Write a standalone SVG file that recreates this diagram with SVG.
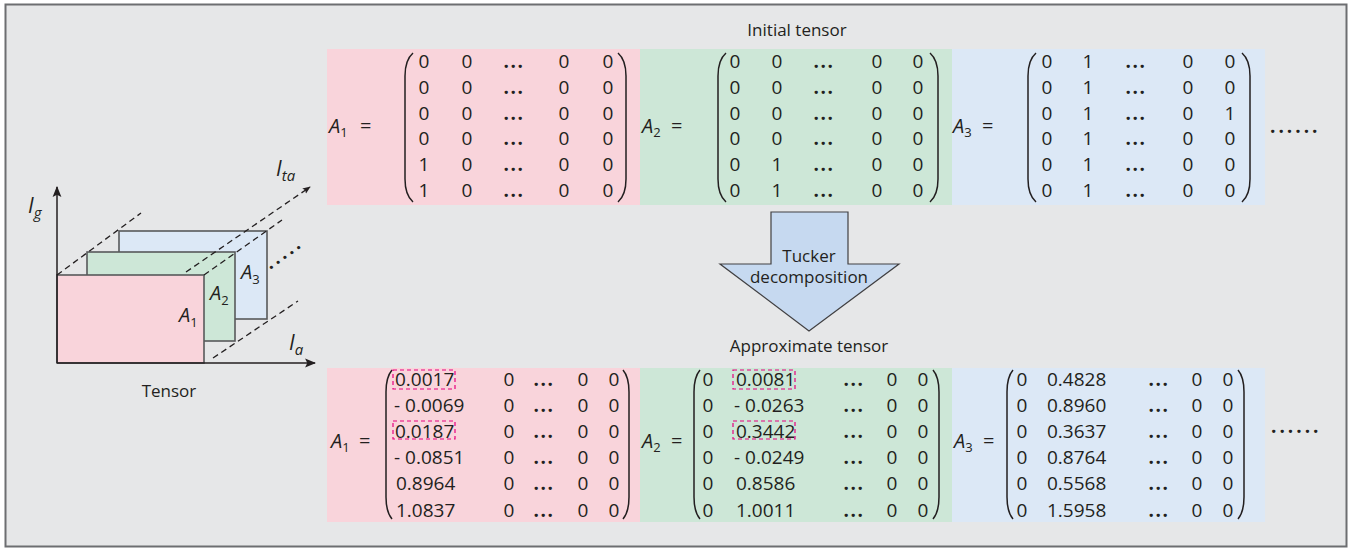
<svg xmlns="http://www.w3.org/2000/svg" width="1357" height="550" viewBox="0 0 1357 550">
<style>
text{font-family:"Open Sans","Noto Sans","Liberation Sans",sans-serif;fill:#231f20}
.t{font-size:17px}
.m{font-size:19px;text-anchor:middle}
.ml{font-size:19px}
.lab{font-size:20px}
.d{font-size:19px;text-anchor:middle;font-weight:bold;letter-spacing:1.5px}
.it{font-style:italic}
.sub{font-size:13px}
.paren{fill:none;stroke:#231f20;stroke-width:1.5}
.hl{fill:none;stroke:#e6007e;stroke-width:1.2;stroke-dasharray:4 3}
.dash{fill:none;stroke:#231f20;stroke-width:1.3;stroke-dasharray:6 4}
.ax{fill:none;stroke:#231f20;stroke-width:1.5}
.slab{stroke:#58595b;stroke-width:1.6}
</style>
<defs>
<marker id="ah" viewBox="0 0 10 10" refX="9" refY="5" markerWidth="8" markerHeight="8" orient="auto" markerUnits="userSpaceOnUse">
<path d="M0,1 L10,5 L0,9 L2,5 Z" fill="#231f20"/>
</marker>
<marker id="ahs" viewBox="0 0 10 10" refX="9" refY="5" markerWidth="11" markerHeight="11" orient="auto" markerUnits="userSpaceOnUse">
<path d="M0,1 L10,5 L0,9 L2,5 Z" fill="#231f20"/>
</marker>
</defs>
<rect x="5.5" y="4.5" width="1341" height="542" fill="#e6e7e8" stroke="#6d6e71" stroke-width="2"/>

<!-- Left tensor illustration -->
<g id="tensor">
<rect x="119" y="231" width="148" height="88" fill="#dce8f6" class="slab"/>
<rect x="87" y="252" width="148" height="89" fill="#cde7d7" class="slab"/>
<rect x="57" y="275" width="147" height="88" fill="#f9d4db" class="slab"/>
<text x="179" y="322" class="lab it">A<tspan class="sub" dy="5" font-style="normal">1</tspan></text>
<text x="210" y="300" class="lab it">A<tspan class="sub" dy="5" font-style="normal">2</tspan></text>
<text x="241" y="279" class="lab it">A<tspan class="sub" dy="5" font-style="normal">3</tspan></text>
<text x="0" y="0" class="ml" font-weight="bold" letter-spacing="3" transform="translate(270,270) rotate(-36)">.....</text>
<text x="169" y="397" class="t" text-anchor="middle">Tensor</text>
<text x="28" y="213" class="it" font-size="21">I<tspan font-size="15" dy="5">g</tspan></text>
<text x="276" y="176" class="it" font-size="21">I<tspan font-size="15" dy="5">ta</tspan></text>
<text x="289" y="350" class="it" font-size="21">I<tspan font-size="15" dy="5">a</tspan></text>
</g>

<g id="connectors">
<line x1="57" y1="363" x2="57" y2="187" class="ax" marker-end="url(#ahs)"/>
<line x1="57" y1="363" x2="315" y2="363" class="ax" marker-end="url(#ahs)"/>
<line x1="57" y1="275" x2="141" y2="213" class="dash"/>
<line x1="186" y1="272" x2="310" y2="187" class="dash" marker-end="url(#ah)"/>
<line x1="204" y1="275" x2="282" y2="220" class="dash"/>
<line x1="213" y1="358" x2="298" y2="301" class="dash"/>
</g>

<!-- Initial tensor -->
<text x="797" y="36" class="t" text-anchor="middle">Initial tensor</text>

<g id="top-A1">
<rect x="327" y="49" width="313" height="156" fill="#f9d4db"/>
<text x="329" y="133" class="lab it">A<tspan class="sub" dy="4" font-style="normal">1</tspan></text>
<text x="360" y="133" class="lab">=</text>
<path class="paren" d="M413,53 Q405,60 405,76 L405,179 Q405,195 413,202"/>
<path class="paren" d="M618,53 Q626,60 626,76 L626,179 Q626,195 618,202"/>
<g class="m">
<text x="424" y="68">0</text><text x="467" y="68">0</text><text x="564" y="68">0</text><text x="608" y="68">0</text>
<text x="424" y="94">0</text><text x="467" y="94">0</text><text x="564" y="94">0</text><text x="608" y="94">0</text>
<text x="424" y="120">0</text><text x="467" y="120">0</text><text x="564" y="120">0</text><text x="608" y="120">0</text>
<text x="424" y="145">0</text><text x="467" y="145">0</text><text x="564" y="145">0</text><text x="608" y="145">0</text>
<text x="424" y="171">1</text><text x="467" y="171">0</text><text x="564" y="171">0</text><text x="608" y="171">0</text>
<text x="424" y="197">1</text><text x="467" y="197">0</text><text x="564" y="197">0</text><text x="608" y="197">0</text>
</g>
<g class="d">
<text x="514" y="68">...</text><text x="514" y="94">...</text><text x="514" y="120">...</text><text x="514" y="145">...</text><text x="514" y="171">...</text><text x="514" y="197">...</text>
</g>
</g>

<g id="top-A2">
<rect x="640" y="49" width="312" height="156" fill="#cde7d7"/>
<text x="642" y="133" class="lab it">A<tspan class="sub" dy="4" font-style="normal">2</tspan></text>
<text x="671" y="133" class="lab">=</text>
<path class="paren" d="M726,53 Q718,60 718,76 L718,179 Q718,195 726,202"/>
<path class="paren" d="M930,53 Q938,60 938,76 L938,179 Q938,195 930,202"/>
<g class="m">
<text x="735" y="68">0</text><text x="777" y="68">0</text><text x="877" y="68">0</text><text x="918" y="68">0</text>
<text x="735" y="94">0</text><text x="777" y="94">0</text><text x="877" y="94">0</text><text x="918" y="94">0</text>
<text x="735" y="120">0</text><text x="777" y="120">0</text><text x="877" y="120">0</text><text x="918" y="120">0</text>
<text x="735" y="145">0</text><text x="777" y="145">0</text><text x="877" y="145">0</text><text x="918" y="145">0</text>
<text x="735" y="171">0</text><text x="777" y="171">1</text><text x="877" y="171">0</text><text x="918" y="171">0</text>
<text x="735" y="197">0</text><text x="777" y="197">1</text><text x="877" y="197">0</text><text x="918" y="197">0</text>
</g>
<g class="d">
<text x="824" y="68">...</text><text x="824" y="94">...</text><text x="824" y="120">...</text><text x="824" y="145">...</text><text x="824" y="171">...</text><text x="824" y="197">...</text>
</g>
</g>

<g id="top-A3">
<rect x="952" y="49" width="313" height="156" fill="#dce8f6"/>
<text x="953" y="133" class="lab it">A<tspan class="sub" dy="4" font-style="normal">3</tspan></text>
<text x="982" y="133" class="lab">=</text>
<path class="paren" d="M1036,53 Q1028,60 1028,76 L1028,179 Q1028,195 1036,202"/>
<path class="paren" d="M1242,53 Q1250,60 1250,76 L1250,179 Q1250,195 1242,202"/>
<g class="m">
<text x="1047" y="68">0</text><text x="1088" y="68">1</text><text x="1188" y="68">0</text><text x="1230" y="68">0</text>
<text x="1047" y="94">0</text><text x="1088" y="94">1</text><text x="1188" y="94">0</text><text x="1230" y="94">0</text>
<text x="1047" y="120">0</text><text x="1088" y="120">1</text><text x="1188" y="120">0</text><text x="1230" y="120">1</text>
<text x="1047" y="145">0</text><text x="1088" y="145">1</text><text x="1188" y="145">0</text><text x="1230" y="145">0</text>
<text x="1047" y="171">0</text><text x="1088" y="171">1</text><text x="1188" y="171">0</text><text x="1230" y="171">0</text>
<text x="1047" y="197">0</text><text x="1088" y="197">1</text><text x="1188" y="197">0</text><text x="1230" y="197">0</text>
</g>
<g class="d">
<text x="1136" y="68">...</text><text x="1136" y="94">...</text><text x="1136" y="120">...</text><text x="1136" y="145">...</text><text x="1136" y="171">...</text><text x="1136" y="197">...</text>
</g>
</g>
<text x="1270" y="133" class="ml" font-weight="bold" letter-spacing="3">......</text>

<!-- Tucker arrow -->
<g id="tucker">
<polygon points="771,212 848,212 848,264 899,264 809,331 720,264 771,264" fill="#c6d9f0" stroke="#414042" stroke-width="1.2"/>
<text x="809" y="262" class="t" text-anchor="middle">Tucker</text>
<text x="809" y="283" class="t" text-anchor="middle">decomposition</text>
</g>
<text x="809" y="352" class="t" text-anchor="middle">Approximate tensor</text>

<g id="bot-A1">
<rect x="327" y="368" width="313" height="154" fill="#f9d4db"/>
<text x="331" y="448" class="lab it">A<tspan class="sub" dy="4" font-style="normal">1</tspan></text>
<text x="359" y="448" class="lab">=</text>
<path class="paren" d="M392,370 Q386,377 386,392 L386,497 Q386,512 392,519"/>
<path class="paren" d="M623,370 Q629,377 629,392 L629,497 Q629,512 623,519"/>
<g class="ml">
<text x="395" y="386">0.0017</text>
<text x="394" y="412">- 0.0069</text>
<text x="395" y="438">0.0187</text>
<text x="394" y="464">- 0.0851</text>
<text x="396" y="490">0.8964</text>
<text x="396" y="517">1.0837</text>
</g>
<g class="m">
<text x="509" y="386">0</text><text x="583" y="386">0</text><text x="614" y="386">0</text>
<text x="509" y="412">0</text><text x="583" y="412">0</text><text x="614" y="412">0</text>
<text x="509" y="438">0</text><text x="583" y="438">0</text><text x="614" y="438">0</text>
<text x="509" y="464">0</text><text x="583" y="464">0</text><text x="614" y="464">0</text>
<text x="509" y="490">0</text><text x="583" y="490">0</text><text x="614" y="490">0</text>
<text x="509" y="517">0</text><text x="583" y="517">0</text><text x="614" y="517">0</text>
</g>
<g class="d">
<text x="544" y="386">...</text><text x="544" y="412">...</text><text x="544" y="438">...</text><text x="544" y="464">...</text><text x="544" y="490">...</text><text x="544" y="517">...</text>
</g>
<rect x="393" y="370" width="62" height="19" class="hl"/>
<rect x="393" y="421" width="62" height="18" class="hl"/>
</g>

<g id="bot-A2">
<rect x="640" y="368" width="312" height="154" fill="#cde7d7"/>
<text x="642" y="448" class="lab it">A<tspan class="sub" dy="4" font-style="normal">2</tspan></text>
<text x="671" y="448" class="lab">=</text>
<path class="paren" d="M700,370 Q694,377 694,392 L694,497 Q694,512 700,519"/>
<path class="paren" d="M933,370 Q939,377 939,392 L939,497 Q939,512 933,519"/>
<g class="ml">
<text x="736" y="386">0.0081</text>
<text x="734" y="412">- 0.0263</text>
<text x="736" y="438">0.3442</text>
<text x="734" y="464">- 0.0249</text>
<text x="736" y="490">0.8586</text>
<text x="736" y="517">1.0011</text>
</g>
<g class="m">
<text x="708" y="386">0</text><text x="892" y="386">0</text><text x="923" y="386">0</text>
<text x="708" y="412">0</text><text x="892" y="412">0</text><text x="923" y="412">0</text>
<text x="708" y="438">0</text><text x="892" y="438">0</text><text x="923" y="438">0</text>
<text x="708" y="464">0</text><text x="892" y="464">0</text><text x="923" y="464">0</text>
<text x="708" y="490">0</text><text x="892" y="490">0</text><text x="923" y="490">0</text>
<text x="708" y="517">0</text><text x="892" y="517">0</text><text x="923" y="517">0</text>
</g>
<g class="d">
<text x="854" y="386">...</text><text x="854" y="412">...</text><text x="854" y="438">...</text><text x="854" y="464">...</text><text x="854" y="490">...</text><text x="854" y="517">...</text>
</g>
<rect x="733" y="370" width="62" height="19" class="hl"/>
<rect x="733" y="421" width="62" height="18" class="hl"/>
</g>

<g id="bot-A3">
<rect x="952" y="368" width="313" height="154" fill="#dce8f6"/>
<text x="954" y="448" class="lab it">A<tspan class="sub" dy="4" font-style="normal">3</tspan></text>
<text x="983" y="448" class="lab">=</text>
<path class="paren" d="M1013,370 Q1007,377 1007,392 L1007,497 Q1007,512 1013,519"/>
<path class="paren" d="M1238,370 Q1244,377 1244,392 L1244,497 Q1244,512 1238,519"/>
<g class="ml">
<text x="1047" y="386">0.4828</text>
<text x="1047" y="412">0.8960</text>
<text x="1047" y="438">0.3637</text>
<text x="1047" y="464">0.8764</text>
<text x="1047" y="490">0.5568</text>
<text x="1047" y="517">1.5958</text>
</g>
<g class="m">
<text x="1022" y="386">0</text><text x="1197" y="386">0</text><text x="1228" y="386">0</text>
<text x="1022" y="412">0</text><text x="1197" y="412">0</text><text x="1228" y="412">0</text>
<text x="1022" y="438">0</text><text x="1197" y="438">0</text><text x="1228" y="438">0</text>
<text x="1022" y="464">0</text><text x="1197" y="464">0</text><text x="1228" y="464">0</text>
<text x="1022" y="490">0</text><text x="1197" y="490">0</text><text x="1228" y="490">0</text>
<text x="1022" y="517">0</text><text x="1197" y="517">0</text><text x="1228" y="517">0</text>
</g>
<g class="d">
<text x="1159" y="386">...</text><text x="1159" y="412">...</text><text x="1159" y="438">...</text><text x="1159" y="464">...</text><text x="1159" y="490">...</text><text x="1159" y="517">...</text>
</g>
</g>
<text x="1271" y="433" class="ml" font-weight="bold" letter-spacing="3">......</text>
</svg>
